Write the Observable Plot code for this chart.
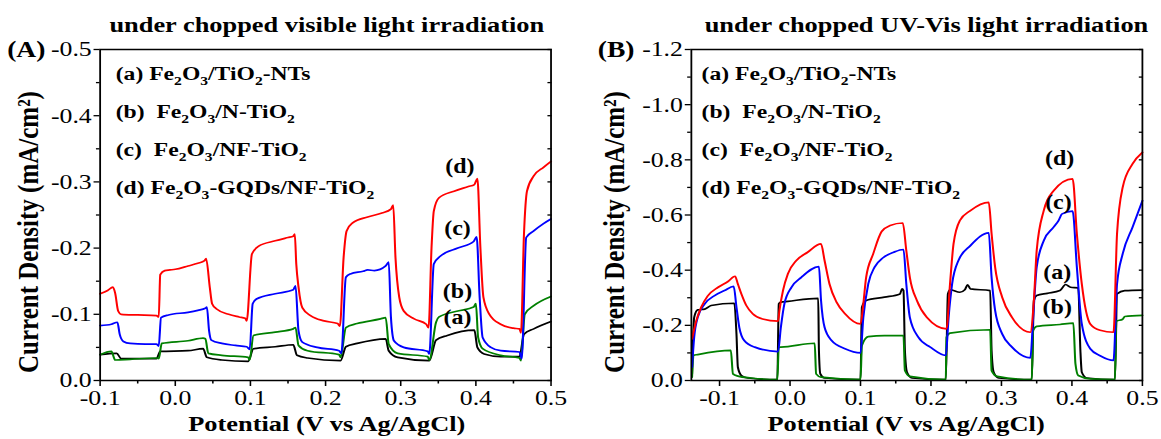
<!DOCTYPE html>
<html>
<head>
<meta charset="utf-8">
<script src="https://cdn.jsdelivr.net/npm/d3@7"></script>
<script src="https://cdn.jsdelivr.net/npm/@observablehq/plot@0.6"></script>
<style>
  html, body { margin: 0; padding: 0; background: #fff; }
  #wrap { display: flex; width: 1161px; height: 439px; overflow: hidden; background: #fff; }
</style>
</head>
<body>
<div id="wrap"></div>
<script>
// ---------------- DATA ----------------
// Panel (A): chopped visible light. [potential V, current density mA/cm2]
const visA = [[-0.100,-0.039],[-0.078,-0.041],[-0.072,-0.033],[-0.025,-0.033],[-0.020,-0.044],[0.017,-0.045],[0.037,-0.048],[0.042,-0.035],[0.062,-0.031],[0.097,-0.029],[0.104,-0.048],[0.133,-0.051],[0.157,-0.054],[0.162,-0.038],[0.176,-0.034],[0.220,-0.030],[0.227,-0.051],[0.242,-0.056],[0.280,-0.063],[0.284,-0.045],[0.296,-0.035],[0.338,-0.030],[0.347,-0.061],[0.362,-0.068],[0.398,-0.076],[0.402,-0.050],[0.411,-0.040],[0.433,-0.036],[0.458,-0.036],[0.464,-0.070],[0.477,-0.078],[0.500,-0.089]];
const visB = [[-0.100,-0.039],[-0.085,-0.044],[-0.080,-0.031],[-0.060,-0.032],[-0.025,-0.034],[-0.022,-0.033],[-0.018,-0.056],[0.017,-0.060],[0.037,-0.064],[0.040,-0.063],[0.044,-0.041],[0.062,-0.038],[0.097,-0.035],[0.099,-0.031],[0.104,-0.068],[0.133,-0.073],[0.157,-0.078],[0.160,-0.080],[0.164,-0.053],[0.176,-0.045],[0.218,-0.039],[0.220,-0.035],[0.227,-0.080],[0.242,-0.086],[0.273,-0.093],[0.280,-0.095],[0.284,-0.055],[0.296,-0.041],[0.336,-0.036],[0.338,-0.031],[0.347,-0.088],[0.351,-0.096],[0.376,-0.105],[0.397,-0.111],[0.400,-0.116],[0.403,-0.065],[0.409,-0.048],[0.433,-0.038],[0.458,-0.034],[0.460,-0.030],[0.465,-0.100],[0.477,-0.113],[0.500,-0.127]];
const visC = [[-0.100,-0.083],[-0.085,-0.085],[-0.077,-0.088],[-0.074,-0.070],[-0.069,-0.059],[-0.060,-0.056],[-0.040,-0.055],[-0.025,-0.055],[-0.022,-0.052],[-0.019,-0.095],[-0.009,-0.099],[0.017,-0.103],[0.030,-0.106],[0.040,-0.109],[0.042,-0.111],[0.045,-0.075],[0.048,-0.061],[0.062,-0.056],[0.080,-0.053],[0.095,-0.051],[0.099,-0.047],[0.103,-0.116],[0.108,-0.123],[0.133,-0.131],[0.157,-0.137],[0.160,-0.143],[0.164,-0.075],[0.169,-0.058],[0.189,-0.050],[0.218,-0.045],[0.221,-0.041],[0.227,-0.156],[0.233,-0.161],[0.250,-0.165],[0.256,-0.167],[0.265,-0.166],[0.280,-0.173],[0.284,-0.179],[0.287,-0.095],[0.291,-0.060],[0.304,-0.050],[0.336,-0.044],[0.338,-0.040],[0.344,-0.176],[0.353,-0.188],[0.376,-0.200],[0.397,-0.210],[0.401,-0.217],[0.405,-0.126],[0.409,-0.065],[0.420,-0.050],[0.433,-0.045],[0.458,-0.043],[0.461,-0.033],[0.467,-0.216],[0.477,-0.226],[0.490,-0.237],[0.500,-0.244]];
const visD = [[-0.100,-0.131],[-0.090,-0.136],[-0.083,-0.141],[-0.080,-0.132],[-0.076,-0.105],[-0.072,-0.100],[-0.050,-0.099],[-0.025,-0.098],[-0.022,-0.096],[-0.020,-0.160],[-0.014,-0.166],[-0.007,-0.167],[0.000,-0.168],[0.017,-0.173],[0.030,-0.177],[0.039,-0.181],[0.041,-0.184],[0.046,-0.140],[0.049,-0.116],[0.055,-0.108],[0.071,-0.100],[0.085,-0.096],[0.093,-0.094],[0.095,-0.090],[0.102,-0.191],[0.111,-0.203],[0.133,-0.211],[0.150,-0.216],[0.157,-0.218],[0.159,-0.221],[0.161,-0.176],[0.164,-0.141],[0.169,-0.110],[0.180,-0.098],[0.198,-0.090],[0.216,-0.086],[0.219,-0.082],[0.224,-0.186],[0.228,-0.226],[0.236,-0.238],[0.256,-0.247],[0.275,-0.253],[0.287,-0.259],[0.290,-0.265],[0.293,-0.186],[0.298,-0.126],[0.304,-0.105],[0.318,-0.093],[0.334,-0.085],[0.337,-0.080],[0.341,-0.201],[0.344,-0.256],[0.351,-0.276],[0.371,-0.286],[0.390,-0.293],[0.398,-0.296],[0.402,-0.305],[0.406,-0.201],[0.410,-0.126],[0.418,-0.100],[0.433,-0.085],[0.450,-0.079],[0.458,-0.078],[0.460,-0.072],[0.464,-0.221],[0.468,-0.286],[0.477,-0.309],[0.490,-0.322],[0.500,-0.331]];

// Panel (B): chopped UV-Vis light
const uvA = [[-0.139,-0.024],[-0.136,-0.229],[-0.131,-0.256],[-0.121,-0.259],[-0.112,-0.272],[-0.079,-0.280],[-0.076,-0.169],[-0.074,-0.048],[-0.069,-0.018],[-0.060,-0.009],[-0.018,-0.003],[-0.016,-0.278],[-0.013,-0.284],[-0.003,-0.287],[0.040,-0.298],[0.041,-0.109],[0.043,-0.024],[0.049,-0.009],[0.100,-0.003],[0.102,-0.266],[0.108,-0.290],[0.134,-0.302],[0.156,-0.314],[0.159,-0.332],[0.161,-0.326],[0.163,-0.109],[0.166,-0.030],[0.173,-0.009],[0.221,-0.003],[0.224,-0.314],[0.227,-0.329],[0.241,-0.320],[0.248,-0.329],[0.252,-0.347],[0.256,-0.332],[0.284,-0.326],[0.286,-0.109],[0.289,-0.030],[0.296,-0.009],[0.343,-0.003],[0.346,-0.290],[0.350,-0.308],[0.365,-0.316],[0.383,-0.326],[0.391,-0.348],[0.398,-0.338],[0.409,-0.336],[0.412,-0.109],[0.414,-0.030],[0.421,-0.009],[0.461,-0.003],[0.464,-0.314],[0.475,-0.326],[0.500,-0.328]];
const uvB = [[-0.139,-0.012],[-0.137,-0.091],[-0.131,-0.094],[-0.084,-0.109],[-0.081,-0.024],[-0.074,-0.016],[-0.055,-0.009],[-0.018,-0.003],[-0.016,-0.121],[-0.013,-0.121],[0.035,-0.135],[0.037,-0.024],[0.044,-0.012],[0.100,-0.003],[0.102,-0.127],[0.111,-0.159],[0.134,-0.163],[0.161,-0.163],[0.163,-0.036],[0.170,-0.015],[0.221,-0.003],[0.222,-0.157],[0.227,-0.172],[0.284,-0.184],[0.286,-0.036],[0.294,-0.015],[0.343,-0.003],[0.345,-0.181],[0.350,-0.196],[0.383,-0.203],[0.402,-0.208],[0.405,-0.060],[0.409,-0.018],[0.426,-0.006],[0.461,-0.003],[0.463,-0.215],[0.472,-0.222],[0.475,-0.232],[0.500,-0.236]];
const uvC = [[-0.139,-0.048],[-0.136,-0.157],[-0.131,-0.229],[-0.121,-0.278],[-0.107,-0.308],[-0.093,-0.326],[-0.080,-0.341],[-0.076,-0.266],[-0.072,-0.193],[-0.065,-0.145],[-0.050,-0.121],[-0.017,-0.105],[-0.013,-0.193],[-0.008,-0.278],[0.002,-0.338],[0.016,-0.374],[0.041,-0.413],[0.044,-0.290],[0.049,-0.193],[0.059,-0.145],[0.078,-0.115],[0.100,-0.100],[0.104,-0.229],[0.111,-0.350],[0.120,-0.411],[0.132,-0.445],[0.147,-0.465],[0.161,-0.475],[0.165,-0.350],[0.170,-0.229],[0.182,-0.157],[0.199,-0.121],[0.221,-0.091],[0.225,-0.229],[0.230,-0.350],[0.239,-0.435],[0.256,-0.489],[0.282,-0.535],[0.286,-0.374],[0.291,-0.254],[0.301,-0.169],[0.315,-0.121],[0.341,-0.082],[0.345,-0.229],[0.350,-0.411],[0.360,-0.507],[0.374,-0.556],[0.381,-0.580],[0.386,-0.604],[0.401,-0.614],[0.407,-0.411],[0.414,-0.205],[0.426,-0.115],[0.440,-0.090],[0.459,-0.073],[0.464,-0.350],[0.472,-0.459],[0.486,-0.556],[0.500,-0.652]];
const uvD = [[-0.139,-0.151],[-0.133,-0.217],[-0.126,-0.266],[-0.117,-0.306],[-0.102,-0.338],[-0.088,-0.359],[-0.078,-0.378],[-0.074,-0.350],[-0.069,-0.314],[-0.062,-0.272],[-0.053,-0.242],[-0.039,-0.223],[-0.017,-0.215],[-0.015,-0.254],[-0.010,-0.326],[-0.003,-0.387],[0.009,-0.435],[0.025,-0.465],[0.044,-0.495],[0.049,-0.435],[0.056,-0.350],[0.066,-0.284],[0.078,-0.242],[0.100,-0.205],[0.104,-0.278],[0.108,-0.374],[0.118,-0.459],[0.130,-0.540],[0.142,-0.562],[0.160,-0.571],[0.165,-0.471],[0.170,-0.374],[0.180,-0.290],[0.194,-0.229],[0.222,-0.187],[0.227,-0.350],[0.232,-0.495],[0.241,-0.580],[0.256,-0.616],[0.282,-0.646],[0.286,-0.532],[0.291,-0.411],[0.301,-0.302],[0.315,-0.229],[0.341,-0.175],[0.346,-0.290],[0.350,-0.471],[0.360,-0.616],[0.374,-0.688],[0.401,-0.731],[0.407,-0.532],[0.414,-0.350],[0.426,-0.205],[0.440,-0.182],[0.459,-0.175],[0.464,-0.532],[0.472,-0.700],[0.486,-0.785],[0.500,-0.827]];

// Tick values
const xMajorA = [-0.1, 0.0, 0.1, 0.2, 0.3, 0.4, 0.5];
const xMinorA = [-0.05, 0.05, 0.15, 0.25, 0.35, 0.45];
const yMajorA = [-0.5, -0.4, -0.3, -0.2, -0.1, 0.0];
const yMinorA = [-0.45, -0.35, -0.25, -0.15, -0.05];
const xMajorB = [-0.1, 0.0, 0.1, 0.2, 0.3, 0.4, 0.5];
const xMinorB = [-0.05, 0.05, 0.15, 0.25, 0.35, 0.45];
const yMajorB = [-1.2, -1.0, -0.8, -0.6, -0.4, -0.2, 0.0];
const yMinorB = [-1.1, -0.9, -0.7, -0.5, -0.3, -0.1];

// Labels
const seriesKeys = ["a", "b", "c", "d"];
const seriesColors = ["#000000", "#008000", "#0000ff", "#ff0000"];
const legendLabels = ["(a) Fe_2O_3/TiO_2-NTs", "(b) \u00a0Fe_2O_3/N-TiO_2", "(c) \u00a0Fe_2O_3/NF-TiO_2", "(d) Fe_2O_3-GQDs/NF-TiO_2"];
const titleA = "under chopped visible light irradiation";
const titleB = "under chopped UV-Vis light irradiation";
const xLabel = "Potential (V vs Ag/AgCl)";
const yLabel = "Current Density (mA/cm\u00b2)";

// ---------------- DRAWING ----------------
const FONT = "'Liberation Serif','Times New Roman',Times,serif";

function makePanel(cfg) {
  const txt = (s, o) => Plot.text([s], {text: d => d, fill: "black", ...o});
  const marks = [
    Plot.axisX({ticks: cfg.xMajor, tickSize: 6, tickPadding: 3, tickFormat: d => d.toFixed(1), fontSize: 21.5, label: null, strokeWidth: 1.3}),
    Plot.axisX({ticks: cfg.xMinor, tickSize: 3.5, tickFormat: () => "", label: null, strokeWidth: 1.3}),
    Plot.axisY({ticks: cfg.yMajor, tickSize: 5, tickPadding: 2, tickFormat: d => d.toFixed(1), fontSize: 21.5, label: null, strokeWidth: 1.3}),
    Plot.axisY({ticks: cfg.yMinor, tickSize: 3, tickFormat: () => "", label: null, strokeWidth: 1.3}),
    Plot.axisY({anchor: "right", ticks: cfg.yMajor.concat(cfg.yMinor), tickSize: -3.5, tickFormat: () => "", label: null, strokeWidth: 1.3}),
    ...cfg.series.map((s, i) => Plot.line(s, {x: d => d[0], y: d => d[1], stroke: seriesColors[i], strokeWidth: 1.7, curve: "monotone-x"})),
    Plot.frame({stroke: "black", strokeWidth: 1.5}),
    txt(cfg.title, {frameAnchor: "top", dx: cfg.titleDx, dy: -18, textAnchor: "middle", lineAnchor: "bottom", fontSize: 22, fontWeight: "bold"}),
    txt(cfg.letter, {frameAnchor: "top-left", dx: cfg.letterDx, dy: 0, textAnchor: "start", lineAnchor: "middle", fontSize: 23, fontWeight: "bold"}),
    txt(xLabel, {frameAnchor: "bottom", dx: cfg.xLabelDx, dy: 50, textAnchor: "middle", lineAnchor: "bottom", fontSize: 22, fontWeight: "bold"}),
    txt(yLabel, {frameAnchor: "left", dx: cfg.yLabelDx, dy: 17, rotate: -90, textAnchor: "middle", lineAnchor: "middle", fontSize: 25, fontWeight: "bold"}),
    ...legendLabels.map((s, i) => txt(s, {frameAnchor: "top-left", dx: cfg.legendDx, dy: 30 + 38 * i, textAnchor: "start", lineAnchor: "bottom", fontSize: 19.7, fontWeight: "bold"})),
    ...cfg.curveLabels.map(c => txt(c[0], {frameAnchor: "top-left", dx: c[1], dy: c[2], textAnchor: "middle", lineAnchor: "middle", fontSize: 20, fontWeight: "bold"}))
  ];
  const svg = Plot.plot({
    width: cfg.width, height: 439,
    marginLeft: cfg.ml, marginRight: cfg.mr, marginTop: 49, marginBottom: 59,
    style: {fontFamily: FONT, fontSize: "21.5px", color: "black", background: "white", overflow: "visible"},
    x: {domain: cfg.xDomain},
    y: {domain: cfg.yDomain},
    marks
  });
  // horizontal stretch of the figure (the original is non-uniformly scaled)
  svg.setAttribute("width", cfg.physWidth);
  svg.setAttribute("height", 439);
  svg.setAttribute("preserveAspectRatio", "none");
  svg.style.width = cfg.physWidth + "px";
  svg.style.height = "439px";
  svg.style.maxWidth = "none";
  svg.style.flex = "none";
  svg.style.display = "block";
  // subscripts in legend labels (Fe_2O_3 notation)
  svg.querySelectorAll("text").forEach(t => {
    const s = t.textContent;
    if (!s.includes("_")) return;
    t.textContent = "";
    const parts = s.split(/_(\d)/);
    parts.forEach((p, i) => {
      const ts = document.createElementNS("http://www.w3.org/2000/svg", "tspan");
      ts.textContent = p;
      if (i % 2 === 1) { ts.setAttribute("font-size", "13"); ts.setAttribute("dy", "5"); }
      else if (i > 0) ts.setAttribute("dy", "-5");
      t.appendChild(ts);
    });
  });
  return svg;
}

const wrap = document.getElementById("wrap");
wrap.appendChild(makePanel({
  width: 492, physWidth: 590, ml: 83, mr: 33,
  xDomain: [-0.1, 0.5], yDomain: [0, -0.5],
  xMajor: xMajorA, xMinor: xMinorA, yMajor: yMajorA, yMinor: yMinorA,
  series: [visA, visB, visC, visD],
  title: titleA, titleDx: 1, letter: "(A)", letterDx: -77.5,
  xLabelDx: 1, yLabelDx: -60, legendDx: 13,
  curveLabels: [["(d)", 300, 117], ["(c)", 298, 179], ["(b)", 298, 242], ["(a)", 298, 268]]
}));
wrap.appendChild(makePanel({
  width: 476, physWidth: 571, ml: 84, mr: 16,
  xDomain: [-0.14, 0.5], yDomain: [0, -1.2],
  xMajor: xMajorB, xMinor: xMinorB, yMajor: yMajorB, yMinor: yMinorB,
  series: [uvA, uvB, uvC, uvD],
  title: titleB, titleDx: 8, letter: "(B)", letterDx: -78,
  xLabelDx: -9, yLabelDx: -64, legendDx: 8.5,
  curveLabels: [["(d)", 307, 109], ["(c)", 306, 153], ["(a)", 305, 223], ["(b)", 305, 258]]
}));
</script>
</body>
</html>
